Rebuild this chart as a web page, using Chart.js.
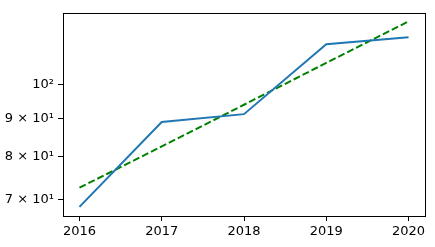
<!DOCTYPE html>
<html>
<head>
<meta charset="utf-8">
<script src="https://cdn.jsdelivr.net/npm/chart.js@4/dist/chart.umd.min.js"></script>
<style>
  html, body { margin: 0; padding: 0; background: #fff; }
  #wrap { width: 435px; height: 247px; }
</style>
</head>
<body>
<div id="wrap"><canvas id="chart" width="435" height="247"></canvas></div>
<script>
// values
const years = [2016, 2017, 2018, 2019, 2020];
const actual = [68.4, 89.0, 91.2, 113.3, 115.8];
const trend = [72.6, 82.5, 93.9, 106.9, 121.6];
const yTicks = [70, 80, 90, 100];
const yTickLabels = ['7 \u00d7 10\u00b9', '8 \u00d7 10\u00b9', '9 \u00d7 10\u00b9', '10\u00b2'];

Chart.defaults.color = '#000';
Chart.defaults.font.family = '"DejaVu Sans", sans-serif';
Chart.defaults.font.size = 13;

// black box round the plot area, like matplotlib spines
const frame = {
  id: 'frame',
  afterDraw(chart) {
    const { ctx, chartArea: a } = chart;
    ctx.save();
    ctx.strokeStyle = '#000';
    ctx.lineWidth = 1;
    ctx.strokeRect(Math.round(a.left) + 0.5, Math.round(a.top) + 0.5,
      Math.round(a.right - a.left), Math.round(a.bottom - a.top));
    ctx.restore();
  }
};

const ctx = document.getElementById('chart');
new Chart(ctx, {
  type: 'line',
  data: {
    datasets: [
      {
        data: years.map((y, i) => ({ x: y, y: actual[i] })),
        borderColor: '#1f77b4',
        borderWidth: 2,
        pointRadius: 0,
        tension: 0
      },
      {
        data: years.map((y, i) => ({ x: y, y: trend[i] })),
        borderColor: '#008000',
        borderWidth: 2,
        borderDash: [7, 3],
        pointRadius: 0,
        tension: 0
      }
    ]
  },
  options: {
    responsive: false,
    animation: false,
    layout: { padding: { top: 13, right: 10, left: 0, bottom: 0 } },
    plugins: { legend: { display: false }, tooltip: { enabled: false } },
    scales: {
      x: {
        type: 'linear',
        min: 2015.8,
        max: 2020.2,
        afterBuildTicks: s => { s.ticks = years.map(v => ({ value: v })); },
        afterFit: s => { s.height = 31; },
        ticks: { callback: v => String(v), padding: 3, maxRotation: 0 },
        grid: { drawOnChartArea: false, drawTicks: true, tickLength: 5, color: '#000' },
        border: { display: true, color: '#000' }
      },
      y: {
        type: 'logarithmic',
        min: 66.5,
        max: 124.8,
        afterBuildTicks: s => { s.ticks = yTicks.map(v => ({ value: v })); },
        afterFit: s => { s.width = 63; },
        ticks: {
          callback: v => yTickLabels[yTicks.indexOf(v)],
          padding: 4
        },
        grid: { drawOnChartArea: false, drawTicks: true, tickLength: 5, color: '#000' },
        border: { display: true, color: '#000' }
      }
    }
  },
  plugins: [frame]
});
</script>
</body>
</html>
